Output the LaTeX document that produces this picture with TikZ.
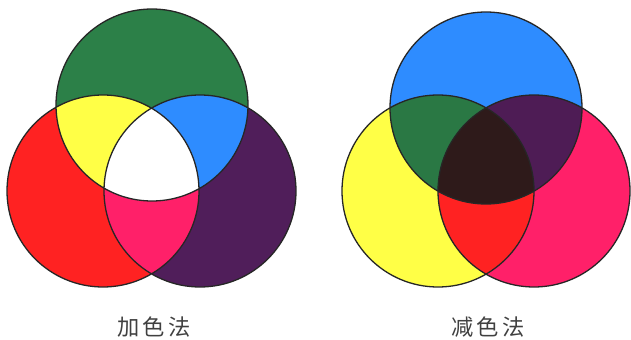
\documentclass[tikz,border=0pt]{standalone}
\usepackage{fontspec}
\newfontfamily\cjk{Noto Sans CJK SC}
\definecolor{mix-green}{RGB}{44,128,72}
\definecolor{mix-red}{RGB}{255,34,34}
\definecolor{mix-purple}{RGB}{80,30,90}
\definecolor{mix-yellow}{RGB}{255,255,70}
\definecolor{mix-blue}{RGB}{46,140,255}
\definecolor{mix-pink}{RGB}{255,32,105}
\definecolor{mix-dkgreen}{RGB}{42,120,68}
\definecolor{mix-dkpurple}{RGB}{78,28,85}
\definecolor{mix-black}{RGB}{46,26,26}

\begin{document}
\begin{tikzpicture}[x=0.03cm, y=-0.03cm,
  rim/.style={draw=black!85, line width=1.1pt},
  caption/.style={font=\cjk\fontsize{19}{22}\selectfont, text=black!75},
]
  \useasboundingbox (0,0) rectangle (631,340);
  \def\rad{96}

  % Additive mixing
  \coordinate (ag) at (152,105);
  \coordinate (ar) at (103,191);
  \coordinate (ap) at (200,191);
  \fill[mix-green] (ag) circle (\rad);
  \fill[mix-red] (ar) circle (\rad);
  \fill[mix-purple] (ap) circle (\rad);
  \begin{scope}
    \clip (ag) circle (\rad);
    \fill[mix-yellow] (ar) circle (\rad);
    \fill[mix-blue] (ap) circle (\rad);
  \end{scope}
  \begin{scope}
    \clip (ar) circle (\rad);
    \fill[mix-pink] (ap) circle (\rad);
    \clip (ap) circle (\rad);
    \fill[white] (ag) circle (\rad);
  \end{scope}
  \draw[rim] (ag) circle (\rad) (ar) circle (\rad) (ap) circle (\rad);
  \node[caption] (addlabel) at (154,327) {加\hspace{0.15em}色\hspace{0.15em}法};

  % Subtractive mixing
  \coordinate (sb) at (486,108);
  \coordinate (sy) at (438,191);
  \coordinate (sm) at (534,191);
  \fill[mix-blue] (sb) circle (\rad);
  \fill[mix-yellow] (sy) circle (\rad);
  \fill[mix-pink] (sm) circle (\rad);
  \begin{scope}
    \clip (sb) circle (\rad);
    \fill[mix-dkgreen] (sy) circle (\rad);
    \fill[mix-dkpurple] (sm) circle (\rad);
  \end{scope}
  \begin{scope}
    \clip (sy) circle (\rad);
    \fill[mix-red] (sm) circle (\rad);
    \clip (sm) circle (\rad);
    \fill[mix-black] (sb) circle (\rad);
  \end{scope}
  \draw[rim] (sb) circle (\rad) (sy) circle (\rad) (sm) circle (\rad);
  \node[caption] (sublabel) at (488,327) {减\hspace{0.15em}色\hspace{0.15em}法};
\end{tikzpicture}
\end{document}
